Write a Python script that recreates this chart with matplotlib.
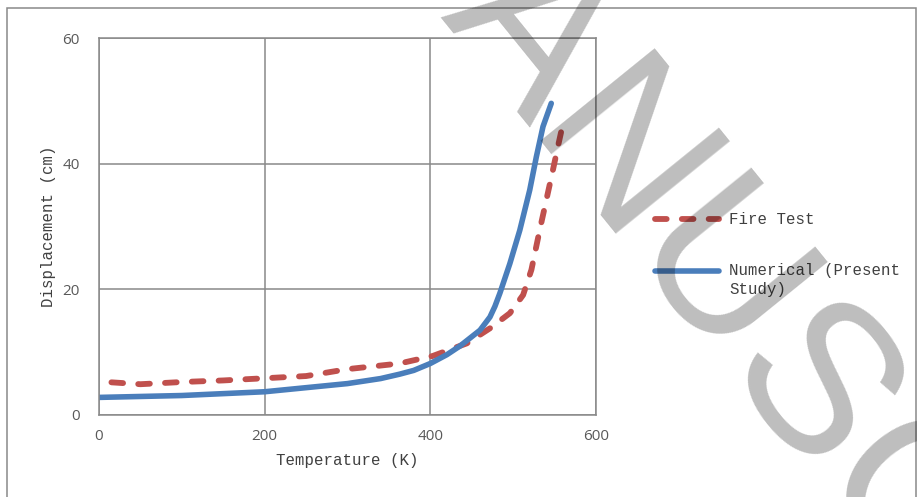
import matplotlib
matplotlib.use("Agg")
import matplotlib.pyplot as plt
from matplotlib.lines import Line2D
from matplotlib.patches import Rectangle

# Fire test measurements (temperature K, displacement cm)
fire_temp = [15, 50, 100, 150, 200, 250, 300, 363, 403, 444, 472, 496, 512, 522, 532, 540, 548, 554, 561]
fire_disp = [5.2, 4.9, 5.25, 5.5, 5.85, 6.2, 7.3, 8.2, 9.4, 11.4, 13.8, 16.2, 19.1, 23.1, 29.4, 34.2, 39.0, 42.7, 46.9]

# Numerical model (present study)
num_temp = [0, 100, 200, 300, 340, 363, 380, 400, 420, 436, 460, 472, 478, 484, 496, 508, 520, 528, 536, 546]
num_disp = [2.8, 3.1, 3.7, 5.0, 5.8, 6.5, 7.1, 8.2, 9.6, 11.0, 13.5, 15.6, 17.3, 19.4, 24.1, 29.4, 35.8, 41.1, 45.9, 49.6]

x_ticks = [0, 200, 400, 600]
y_ticks = [0, 20, 40, 60]
series_labels = ["Fire Test", "Numerical (Present\nStudy)"]

RED = "#C0504D"
BLUE = "#4A7EBB"
GRID = "#898989"
MONO = "Liberation Mono"

W, H = 917, 497
fig = plt.figure(figsize=(W / 100, H / 100), dpi=100)


def fx(px):
    return px / W


def fy(py):
    return 1 - py / H


# outer chart frame
fig.add_artist(Rectangle((fx(7), fy(500)), fx(909), fy(8) - fy(500), transform=fig.transFigure,
                         fill=False, edgecolor=GRID, linewidth=1.1))

ax = fig.add_axes([fx(99), fy(415), fx(596) - fx(99), fy(38) - fy(415)])
ax.plot(fire_temp, fire_disp, color=RED, linewidth=4.2, dashes=(2.0, 2.6),
        dash_capstyle="round", solid_capstyle="round", solid_joinstyle="round")
ax.plot(num_temp, num_disp, color=BLUE, linewidth=4.0, solid_capstyle="round",
        solid_joinstyle="round")

ax.set_xlim(0, 600)
ax.set_ylim(0, 60)
ax.set_xticks(x_ticks)
ax.set_yticks(y_ticks)
ax.grid(True, color=GRID, linewidth=1.1)
ax.set_axisbelow(True)
ax.tick_params(length=0, labelsize=11, labelcolor="#595959")
ax.tick_params(axis="x", pad=10)
ax.tick_params(axis="y", pad=14)
for lab in ax.get_xticklabels() + ax.get_yticklabels():
    lab.set_family("Open Sans")
for sp in ax.spines.values():
    sp.set_color(GRID)
    sp.set_linewidth(1.1)

ax.set_xlabel("Temperature (K)", family=MONO, fontsize=11.3, color="#404040")
ax.set_ylabel("Displacement (cm)", family=MONO, fontsize=11.3, color="#404040")
ax.xaxis.set_label_coords(0.499, -0.101)
ax.yaxis.set_label_coords(-0.086, 0.5)

# legend drawn beside the plot
fig.add_artist(Line2D([fx(655), fx(719)], [fy(219), fy(219)], transform=fig.transFigure,
                      color=RED, linewidth=4.2, dashes=(2.0, 2.6), dash_capstyle="round"))
fig.add_artist(Line2D([fx(655), fx(719)], [fy(271), fy(271)], transform=fig.transFigure,
                      color=BLUE, linewidth=4.0, solid_capstyle="round"))
fig.text(fx(729), fy(219), series_labels[0], family=MONO, fontsize=11.3, color="#404040", va="center")
fig.text(fx(729), fy(263), series_labels[1], family=MONO, fontsize=11.3, color="#404040", va="top",
         linespacing=1.3)

# manuscript watermark
fig.text(fx(675), fy(308), "ANUSC", family="Liberation Sans", fontsize=154, color="black", alpha=0.26,
         rotation=-51, rotation_mode="anchor", ha="center", va="baseline", zorder=10)

fig.savefig("out.png", dpi=100)
